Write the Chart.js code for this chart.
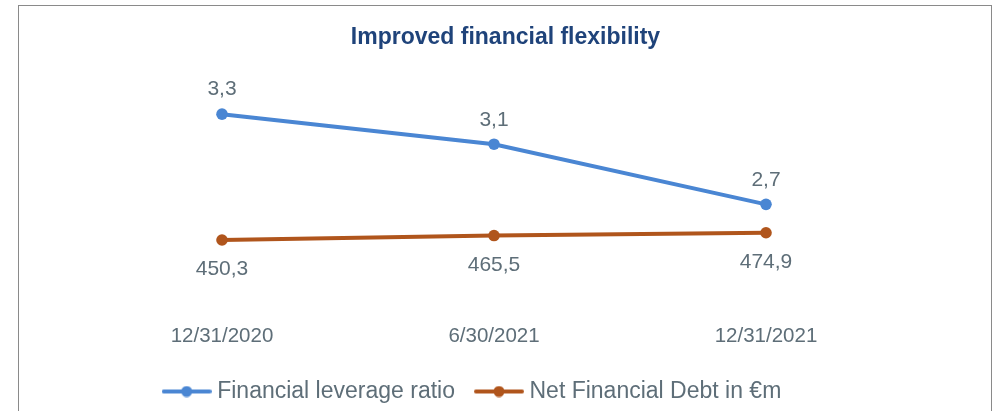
<!DOCTYPE html>
<html>
<head>
<meta charset="utf-8">
<script src="https://cdn.jsdelivr.net/npm/chart.js@4"></script>
<style>
  html, body { margin: 0; padding: 0; background: #fff; overflow: hidden; }
  #wrap { position: relative; width: 996px; height: 411px; }
</style>
</head>
<body>
<div id="wrap"><canvas id="c" width="996" height="411"></canvas></div>
<script>
// Period-end dates and the two KPI series
const categories = ['12/31/2020', '6/30/2021', '12/31/2021'];
const leverageRatio = [3.3, 3.1, 2.7];
const netFinancialDebt = [450.3, 465.5, 474.9];
const seriesNames = ['Financial leverage ratio', 'Net Financial Debt in €m'];
const chartTitle = 'Improved financial flexibility';

const BLUE = '#4A86D3';
const BROWN = '#B0551C';
const GREY = '#5E6E78';
const NAVY = '#1F437A';
const FONT = '"Liberation Sans", Arial, Helvetica, sans-serif';

// Decimal comma, one decimal place
const fmt = v => v.toFixed(1).replace('.', ',');

// Legend marker: short line with a dot in the middle
function legendMarker(color) {
  const c = document.createElement('canvas');
  c.width = 50; c.height = 12;
  const g = c.getContext('2d');
  g.strokeStyle = color; g.lineWidth = 4; g.lineCap = 'round';
  g.beginPath(); g.moveTo(2, 6); g.lineTo(48, 6); g.stroke();
  g.fillStyle = color;
  g.beginPath(); g.arc(25, 6, 5.5, 0, Math.PI * 2); g.fill();
  return c;
}

// Frame and white background
const frame = {
  id: 'frame',
  beforeDraw(chart) {
    const ctx = chart.ctx;
    ctx.save();
    ctx.fillStyle = '#fff';
    ctx.fillRect(0, 0, chart.width, chart.height);
    ctx.strokeStyle = '#8a8a8a';
    ctx.lineWidth = 1;
    ctx.strokeRect(18.5, 5.5, 973, 440);
    ctx.restore();
  }
};

// Value labels above / below each point
const valueLabels = {
  id: 'valueLabels',
  afterDatasetsDraw(chart) {
    const ctx = chart.ctx;
    chart.data.datasets.forEach((ds, i) => {
      const meta = chart.getDatasetMeta(i);
      ctx.save();
      ctx.font = '21px ' + FONT;
      ctx.fillStyle = GREY;
      ctx.textAlign = 'center';
      ctx.textBaseline = 'middle';
      meta.data.forEach((pt, j) => {
        ctx.fillText(fmt(ds.data[j]), pt.x, pt.y + ds.labelOffset);
      });
      ctx.restore();
    });
  }
};

// Placement of the title and legend blocks
const blockShift = {
  id: 'blockShift',
  afterLayout(chart) {
    const move = (box, dx, dy) => {
      if (!box) return;
      box.left += dx; box.right += dx;
      box.top += dy; box.bottom += dy;
    };
    move(chart.titleBlock, 11.5, 0);
    move(chart.legend, -19.5, -12);
  }
};

new Chart(document.getElementById('c'), {
  type: 'line',
  data: {
    labels: categories,
    datasets: [
      {
        label: seriesNames[0],
        data: leverageRatio,
        yAxisID: 'yRatio',
        borderColor: BLUE,
        backgroundColor: BLUE,
        pointBackgroundColor: BLUE,
        borderWidth: 4,
        pointRadius: 5.8,
        pointBorderWidth: 0,
        tension: 0,
        labelOffset: -24.5
      },
      {
        label: seriesNames[1],
        data: netFinancialDebt,
        yAxisID: 'yDebt',
        borderColor: BROWN,
        backgroundColor: BROWN,
        pointBackgroundColor: BROWN,
        borderWidth: 4,
        pointRadius: 5.8,
        pointBorderWidth: 0,
        tension: 0,
        labelOffset: 29.7
      }
    ]
  },
  options: {
    responsive: false,
    animation: false,
    layout: { padding: { left: 86, right: 94, top: 0, bottom: -14 } },
    scales: {
      x: {
        offset: true,
        grid: { display: false, drawTicks: false },
        border: { display: false },
        ticks: { color: GREY, font: { family: FONT, size: 20.5 }, padding: 18 }
      },
      yRatio: { display: false, position: 'left', min: 2.021, max: 3.663 },
      yDebt: { display: false, position: 'right', min: 224.5, max: 1063.7 }
    },
    plugins: {
      title: {
        display: true,
        text: chartTitle,
        color: NAVY,
        font: { family: FONT, size: 23, weight: 'bold' },
        padding: { top: 24, bottom: 8 }
      },
      legend: {
        position: 'bottom',
        labels: {
          usePointStyle: true,
          pointStyleWidth: 38,
          padding: 25,
          color: GREY,
          font: { family: FONT, size: 23 },
          generateLabels(chart) {
            return chart.data.datasets.map((ds, i) => ({
              text: ds.label,
              pointStyle: legendMarker(ds.borderColor),
              fillStyle: ds.borderColor,
              strokeStyle: ds.borderColor,
              fontColor: GREY,
              lineWidth: 0,
              hidden: false,
              datasetIndex: i
            }));
          }
        }
      },
      tooltip: { enabled: false }
    }
  },
  plugins: [frame, valueLabels, blockShift]
});
</script>
</body>
</html>
